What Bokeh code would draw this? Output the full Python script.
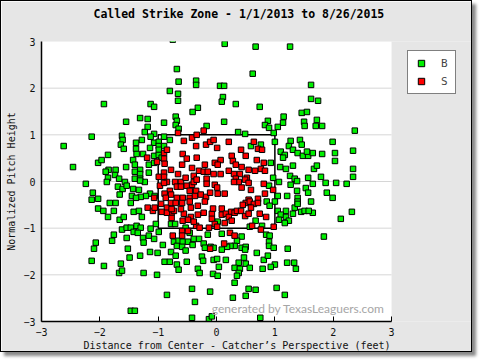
from bokeh.plotting import figure
from bokeh.models import Legend, LegendItem, Label, FixedTicker, Title
from bokeh.embed import file_html
from bokeh.resources import INLINE

title_text = "Called Strike Zone - 1/1/2013 to 8/26/2015"
x_label = "Distance from Center - Catcher\u2019s Perspective (feet)"
y_label = "Normalized Pitch Height"
tick_values = [-3, -2, -1, 0, 1, 2, 3]
grid_values = [-2, -1, 0, 1, 2]
zone_left, zone_right, zone_bottom, zone_top = -1.0, 1.0, -1.0, 1.0

# Balls (B)
ball_x = [
    -0.75, -0.68, -0.65, -0.35, -0.35, -0.80, -0.66, -0.66, -1.93, -1.13, -1.07, -0.32,
    0.98, 0.14, 0.67, 1.26, 0.62, 0.06, 0.13, 1.62, 0.11, 0.09, 0.33, 0.74, 1.62, 1.74,
    2.37, 1.99, 2.34, 2.03, 2.03, 2.34, 2.05, 2.23, 2.34, 1.99, 2.32, 2.13,
    -2.14, -2.62, -2.46, -2.03, -2.24, -2.12, -2.14, -2.03, -2.03, -2.07, -2.10, -2.14,
    -0.85, -0.11, -0.37, -1.47, -1.40, -0.42, -0.13, -0.08, -1.77, 0.41, 0.28, 0.50, 1.17, 0.75,
    -0.41, -1.31, -1.18, -0.70, -0.68, -1.55, -0.90, -1.18, -0.70, -0.17, -0.65, -1.23, -1.07,
    -1.62, -1.13, -0.90, -1.61, -0.80, -1.28, -1.07, -0.99, -1.38, -1.64, -0.99, -0.90, -1.38,
    -1.59, -1.14, -0.99, -1.37, -1.26, -1.86, -1.97, -1.43, -1.07, -0.99, -0.94, -1.40, -1.16,
    -1.07, -1.55, -1.85, -1.73, -1.31, -1.40, -1.90, -1.74, -1.16, -1.31, -1.86, -1.40, -1.31,
    -1.67, -1.23, -1.31, -1.88, -1.57, -1.69, -1.61, -1.43, -1.54, -1.33, -1.14, -1.21, -1.66,
    -1.45, -1.06, -1.30, -1.38,
    0.13, 0.88, 0.83, 0.90, 1.15, 1.14, 1.05, 1.46, 1.55, 1.72, 1.50, 1.51, 1.70, 1.81, 0.37,
    0.49, 0.98, 1.00, 0.59, 0.76, 1.27, 1.43, 1.24, 1.46, 1.31, 1.10, 1.17, 1.14, 1.39, 1.48,
    1.57, 1.65, 1.55, 1.81, 0.93, 1.31, 1.09, 1.19, 1.67, 1.26, 1.34, 1.38, 1.27, 1.57, 1.79,
    0.97, 1.07, 1.65, 1.87, 1.38, 1.53, 1.57, 1.89, 1.05, 1.21, 1.39, 0.90, 1.72,
    -1.83, -1.73, -1.47, -1.94, -1.76, -1.42, -1.33, -1.86, -1.66, -1.59, -1.28, -1.04, -1.62,
    -1.54, -1.47, -1.37, -1.30, -1.42, -1.35, -1.13, -0.99, -1.76, -1.54, -1.26, -1.16, -1.07,
    -1.79, -1.25, -0.92, -1.52, -0.78, -1.14, -1.01, -1.31, -1.49, -0.73, -0.65, -0.58, -0.49,
    -0.68, -0.59, -0.53, -0.41, -0.39, -0.30, -0.22, -0.20, -0.10, -0.05, -0.70, -0.25, -0.89,
    -0.80, -0.68, -0.51, -0.05, -1.93, -1.64, -0.65, -0.32, -0.29, -0.06, -1.67, -1.62, -1.25,
    -1.02, -0.42, -0.78, -0.71, -0.53, -0.46, -0.15, -0.23,
    0.86, 1.00, 0.91, 1.34, 1.39, 1.62, 1.05, 1.19, 1.45, 1.51, 1.65, 1.31, 1.10, 1.19, 1.07,
    1.24, 1.17, 0.67, 0.57, 0.78, 0.85, 0.91, 0.90, 0.90, 0.98, 1.22, 0.69, 0.02, 0.09, 0.43,
    0.35, 0.31, 0.24, 0.18, 0.43, 0.50, 0.09, 0.49, 0.01, 0.16, 0.47, 0.81, 0.88, 0.38, 0.50,
    1.21, 1.33, 1.00, 0.93, 1.36, 0.04, 0.31, 0.40, 0.57, 0.79, 0.38, 0.02, 0.35, 0.31, 0.55,
    0.67, 1.03, 1.84, 1.58, 1.39,
]
ball_y = [
    3.04, 2.41, 2.14, 2.16, 2.07, 1.94, 1.88, 1.73, 1.66, 1.66, 1.60, 1.58,
    3.23, 2.95, 2.89, 2.89, 2.31, 2.05, 2.05, 2.07, 1.81, 1.71, 1.66, 1.60, 1.77, 1.73,
    1.09, 0.85, 0.66, 0.61, 0.44, 0.27, -0.03, -0.05, 0.10, -0.35, -0.65, -0.80,
    0.96, 0.76, 0.31, 0.40, -0.05, -0.24, -0.39, -0.37, -0.58, -1.31, -1.44, -1.70,
    -2.43, -2.36, -2.58, -2.77, -2.77, -2.92, -2.95, -2.89, -3.24, -3.15, -2.49, -2.45, -2.43, -2.92,
    1.49, 1.36, 1.34, 1.39, 1.30, 1.28, 1.26, 1.17, 1.21, 1.19, 1.13, 1.06, 1.02,
    0.98, 0.96, 0.96, 0.89, 0.89, 0.89, 0.83, 0.85, 0.83, 0.79, 0.76, 0.76, 0.70,
    0.70, 0.72, 0.68, 0.59, 0.59, 0.57, 0.46, 0.46, 0.55, 0.57, 0.51, 0.36, 0.36,
    0.40, 0.31, 0.25, 0.25, 0.25, 0.21, 0.21, 0.14, 0.19, 0.16, 0.08, 0.06, 0.06,
    0.06, -0.01, 0.02, -0.01, -0.01, -0.11, -0.16, -0.16, -0.09, -0.18, -0.26, -0.31, -0.28,
    -0.31, -0.31, -0.33, -0.35,
    1.28, 1.30, 1.21, 1.15, 1.39, 1.26, 1.17, 1.47, 1.49, 1.32, 1.28, 1.19, 1.19, 1.19, 1.06,
    1.02, 1.04, 0.85, 0.76, 0.79, 0.87, 0.89, 0.76, 0.79, 0.68, 0.64, 0.57, 0.51, 0.61, 0.55,
    0.55, 0.61, 0.64, 0.59, 0.40, 0.34, 0.31, 0.27, 0.27, 0.12, 0.06, 0.01, -0.07, 0.08, 0.10,
    0.08, -0.01, -0.05, -0.03, -0.20, -0.14, -0.24, -0.24, -0.31, -0.31, -0.35, -0.09, 0.34,
    -0.46, -0.46, -0.46, -0.63, -0.63, -0.65, -0.63, -0.76, -0.82, -0.76, -0.76, -0.91, -1.03,
    -0.99, -0.99, -0.95, -0.99, -1.08, -1.10, -1.01, -1.08, -1.14, -1.21, -1.21, -1.16, -1.23,
    -1.27, -1.31, -1.36, -1.44, -1.51, -1.51, -1.53, -1.59, -1.63, -1.29, -1.27, -1.29, -1.29,
    -1.38, -1.40, -1.48, -1.36, -1.23, -1.23, -1.33, -1.42, -1.40, -1.42, -1.59, -1.61, -1.72,
    -1.72, -1.78, -1.72, -1.68, -1.81, -1.76, -1.89, -1.87, -1.96, -1.98, -1.96, -1.91, -1.96,
    -2.00, -2.30, -0.91, -0.91, -0.99, -1.10, -1.14, -1.70,
    -0.43, -0.43, -0.52, -0.56, -0.43, -0.43, -0.63, -0.63, -0.65, -0.63, -0.67, -0.69, -0.71, -0.76, -0.82,
    -0.84, -0.89, -0.84, -0.97, -0.95, -1.14, -1.16, -1.29, -1.38, -1.42, -1.44, -1.53, -0.86, -1.12, -1.18,
    -1.27, -1.38, -1.38, -1.40, -1.42, -1.40, -1.46, -1.46, -1.66, -1.68, -1.63, -1.68, -1.59, -1.74, -1.76,
    -1.74, -1.74, -1.78, -1.83, -1.87, -1.83, -1.85, -1.87, -1.85, -1.87, -1.96, -2.02, -2.02, -2.17, -2.30,
    -2.32, -2.28, -1.18, -0.63, -0.48,
]

# Called strikes (S)
strike_x = [
    -0.66, -0.42, -0.34, -0.22, -0.56, -0.35, -0.18, -0.11, -0.05, -0.90, -0.58, -1.19, -0.90,
    -0.51, -0.34, -1.02, -0.59, -0.20, -0.03, -0.78, -0.66, -0.42, -0.30, -0.22, -0.15, -0.39,
    -0.90, -0.99, -0.90, -0.85, -0.71, -0.61, -0.53, -0.17, -0.17, -0.97, -0.68, -0.61, -0.51,
    -0.42, -0.39, -0.34, -0.35, -0.46, -0.80, -0.89, -0.78, -0.68, -0.58, -0.46, -0.37, -0.27,
    -0.18, -0.11, -0.03, -0.05, -1.07, -0.85, -0.89, -0.87, -0.90,
    0.21, 0.64, 0.01, 0.42, 0.71, 0.78, 0.26, 0.50, 0.69, 0.07, 0.28, 0.02, 0.33, 0.43, 0.81,
    0.76, 0.83, 0.66, 0.55, 0.21, 0.07, 0.30, 0.40, 0.33, 0.52, 0.38, 0.49, 0.30, 0.55, 0.81,
    0.43, 0.01, 0.59, 0.14, 0.97, 0.83, 0.55, 0.71, 0.02,
    -1.18, -1.09, -0.95, -0.85, -0.94, -0.78, -0.70, -0.59, -0.46, -0.32, -0.20, -0.44, -0.77,
    -0.73, -0.85, -0.56, -0.44, -0.32, -0.22, -0.08, -0.08, -0.77, -0.58, -0.49, -0.35, -0.29,
    -0.59, -0.49, -0.59, -0.75, -0.11, -0.03, -0.39, -0.13, -1.06, -0.77, -0.61,
    0.09, 0.09, 0.16, 0.25, 0.31, 0.35, 0.42, 0.21, 0.49, 0.50, 0.57, 0.64, 0.71, 0.45,
    0.59, 0.74, 0.85, 0.55, 0.26, 0.14, 0.01, 0.61, 0.76, 0.98, 0.23, 0.31, 0.13, -0.06,
]
strike_y = [
    1.04, 0.94, 1.00, 1.09, 0.87, 0.76, 0.79, 0.85, 0.89, 0.61, 0.59, 0.51, 0.49,
    0.49, 0.51, 0.42, 0.36, 0.36, 0.40, 0.25, 0.16, 0.29, 0.23, 0.21, 0.21, 0.12,
    0.19, 0.10, 0.10, -0.01, -0.01, -0.01, 0.08, 0.06, -0.05, -0.09, -0.11, -0.11, -0.09,
    -0.07, -0.01, 0.04, -0.20, -0.20, -0.20, -0.26, -0.28, -0.35, -0.35, -0.35, -0.31, -0.28,
    -0.33, -0.24, -0.07, 0.16, -0.35, 0.68, 0.38, -0.35, -0.03,
    0.85, 0.85, 0.72, 0.68, 0.70, 0.68, 0.55, 0.55, 0.46, 0.46, 0.44, 0.36, 0.36, 0.31, 0.40,
    0.27, 0.23, 0.23, 0.25, 0.23, 0.16, 0.16, 0.16, 0.06, 0.08, -0.01, 0.04, -0.01, -0.03, -0.05,
    -0.13, -0.13, -0.18, -0.26, -0.18, -0.26, -0.39, -0.37, -0.26,
    -0.56, -0.63, -0.48, -0.56, -0.65, -0.46, -0.46, -0.46, -0.43, -0.52, -0.43, -0.56, -0.67,
    -0.63, -0.67, -0.69, -0.76, -0.71, -0.67, -0.69, -0.80, -0.78, -0.84, -0.82, -0.95, -0.99,
    -1.06, -1.06, -1.16, -1.16, -1.44, -0.91, -0.86, -0.99, -0.56, -0.59, -0.59,
    -0.58, -0.71, -0.69, -0.65, -0.67, -0.63, -0.63, -0.76, -0.74, -0.46, -0.43, -0.48, -0.46, -0.50,
    -0.56, -0.69, -0.76, -0.69, -0.84, -0.89, -0.97, -0.95, -1.03, -0.97, -1.10, -1.16, -1.33, -0.58,
]

assert len(ball_x) == len(ball_y), (len(ball_x), len(ball_y))
assert len(strike_x) == len(strike_y), (len(strike_x), len(strike_y))

MONO = "DejaVu Sans Mono"
X_MIN, X_MAX = tick_values[0], tick_values[-1]
Y_MIN, Y_MAX = tick_values[0], tick_values[-1]

# frame is widened to the right so the legend (outside the plotting area) is not clipped
p = figure(
    width=472, height=352,
    x_range=(X_MIN, 4.37), y_range=(Y_MIN, Y_MAX),
    output_backend="svg", toolbar_location=None,
    min_border_left=40, min_border_right=2, min_border_top=40, min_border_bottom=32,
    title=title_text,
    styles={"border": "1px solid #000", "box-shadow": "4px 4px 3px #8a8a8a"},
)
p.border_fill_color = "#e6e6e6"
p.background_fill_color = "#e6e6e6"
p.outline_line_color = None

p.title.text_font = MONO
p.title.text_font_style = "bold"
p.title.text_font_size = "11.5px"
p.title.text_color = "black"
p.title.align = "left"
p.title.vertical_align = "top"
p.title.offset = 52
p.title.standoff = 10

# small blank spacer between the frame and the title (lifts the title)
p.add_layout(Title(text=" ", text_font_size="1px", standoff=11), "above")

for ax in (p.xaxis[0], p.yaxis[0]):
    ax.ticker = FixedTicker(ticks=tick_values)
    ax.bounds = (tick_values[0], tick_values[-1])
    ax.major_label_text_font = MONO
    ax.major_label_text_font_size = "10px"
    ax.major_label_text_color = "#111111"
    ax.axis_label_text_font = MONO
    ax.axis_label_text_font_size = "10px"
    ax.axis_label_text_font_style = "normal"
    ax.axis_label_text_color = "#111111"
    ax.minor_tick_line_color = None
    ax.axis_line_color = "black"
    ax.axis_line_width = 1.5

p.yaxis.axis_label = y_label
p.xaxis.major_tick_in = 5
p.xaxis.major_tick_out = 0
p.xaxis.major_tick_line_color = "black"
p.xaxis.major_label_standoff = 6
p.yaxis.major_tick_in = 0
p.yaxis.major_tick_out = 0
p.yaxis.major_label_standoff = 6
p.yaxis.axis_label_standoff = 3

# x-axis caption, placed under the axis and aligned like the original
p.add_layout(Title(text=x_label, align="left", vertical_align="top", offset=42, standoff=2,
                   text_font=MONO, text_font_size="10px", text_font_style="normal",
                   text_color="#111111"), "below")

p.xgrid.visible = False
p.ygrid.visible = False

# white plotting area
p.quad(left=[X_MIN], right=[X_MAX], bottom=[Y_MIN], top=[Y_MAX],
       fill_color="white", line_color=None)
# horizontal grid lines, only across the plotting area
p.segment(x0=[X_MIN] * len(grid_values), x1=[X_MAX] * len(grid_values),
          y0=grid_values, y1=grid_values, line_color="#d6d6d6", line_width=1)

p.quad(left=[zone_left], right=[zone_right], bottom=[zone_bottom], top=[zone_top],
       fill_color=None, line_color="black", line_width=1.5)

wm = Label(x=-0.08, y=-2.72, text="generated by TexasLeaguers.com",
           text_font="Lato", text_font_size="12px", text_color="#a6a6a6",
           text_baseline="middle")
p.add_layout(wm)

rb = p.scatter(ball_x, ball_y, marker="square", size=5.5, fill_color="#00f000",
               line_color="black", line_width=1)
rs = p.scatter(strike_x, strike_y, marker="square", size=5.5, fill_color="#ff0000",
               line_color="black", line_width=1)

legend = Legend(items=[LegendItem(label="B", renderers=[rb]),
                       LegendItem(label="S", renderers=[rs])],
                location=(366, 227))
legend.label_text_font = MONO
legend.label_text_font_size = "11px"
legend.padding = 4
legend.spacing = 2
legend.glyph_width = 18
legend.glyph_height = 16
legend.label_standoff = 11
legend.label_width = 10
legend.border_line_color = "black"
legend.border_line_width = 1
legend.background_fill_color = "white"
legend.background_fill_alpha = 1
legend.margin = 0
p.add_layout(legend)

open("out.html", "w").write(file_html(p, INLINE))
